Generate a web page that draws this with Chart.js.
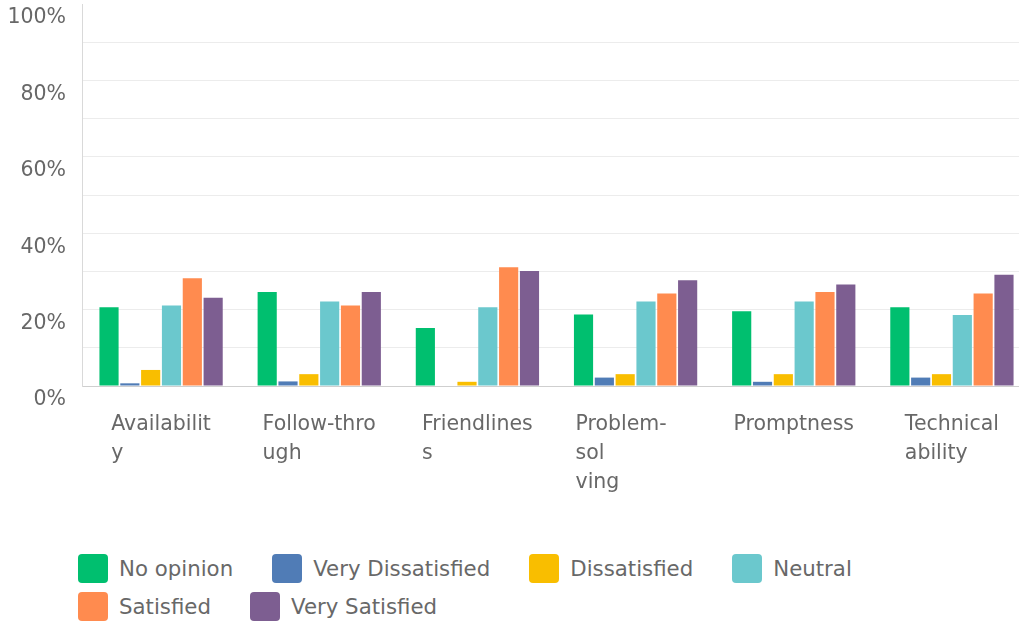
<!DOCTYPE html>
<html>
<head>
<meta charset="utf-8">
<title>Satisfaction by attribute</title>
<script src="https://cdn.jsdelivr.net/npm/chart.js@4.4.1/dist/chart.umd.min.js"></script>
<style>
  html, body { margin: 0; padding: 0; background: #fff; overflow: hidden; }
  #wrap { position: relative; width: 1019px; height: 622px; overflow: hidden; }
  #chart { position: absolute; left: 0; top: 0; }
  #legend {
    position: absolute; left: 78px; top: 554px; width: 800px;
    display: flex; flex-wrap: wrap; column-gap: 39px; row-gap: 9px;
    font-family: "DejaVu Sans", sans-serif; font-size: 21.3px; color: #686868;
  }
  #legend .item { display: flex; align-items: center; height: 29px; line-height: 29px; white-space: nowrap; }
  #legend .box { width: 30px; height: 29px; border-radius: 4px; margin-right: 11px; }
</style>
</head>
<body>
<div id="wrap">
  <canvas id="chart" width="1031" height="548"></canvas>
  <div id="legend"></div>
</div>
<script>
// Attributes rated in the survey
const categories = ['Availability', 'Follow-through', 'Friendliness', 'Problem-solving', 'Promptness', 'Technical ability'];
// Axis labels as they wrap under each group
const tickLabels = [['Availabilit', 'y'], ['Follow-thro', 'ugh'], ['Friendlines', 's'], ['Problem-', 'sol', 'ving'], ['Promptness'], ['Technical', 'ability']];
const yTicks = [0, 20, 40, 60, 80, 100];

// Share of respondents (%) per answer, one value per attribute
const noOpinion          = [20.6, 24.6, 15.2, 18.7, 19.6, 20.6];
const veryDissatisfied   = [0.7, 1.2, 0, 2.2, 1.1, 2.2];
const dissatisfied       = [4.2, 3.1, 1.1, 3.1, 3.1, 3.1];
const neutral            = [21.1, 22.1, 20.6, 22.1, 22.1, 18.6];
const satisfied          = [28.2, 21.1, 31.1, 24.2, 24.6, 24.2];
const verySatisfied      = [23.1, 24.6, 30.1, 27.7, 26.6, 29.1];

const series = [
  { label: 'No opinion',        data: noOpinion,        color: '#00BF6F' },
  { label: 'Very Dissatisfied', data: veryDissatisfied, color: '#507CB6' },
  { label: 'Dissatisfied',      data: dissatisfied,     color: '#F9BE00' },
  { label: 'Neutral',           data: neutral,          color: '#6BC8CD' },
  { label: 'Satisfied',         data: satisfied,        color: '#FF8B4F' },
  { label: 'Very Satisfied',    data: verySatisfied,    color: '#7D5E91' }
];

const AXIS_FONT = { family: '"DejaVu Sans", sans-serif', size: 20.5, lineHeight: 1.42 };

// Draw wrapped category labels as a centred block with left-aligned lines.
// The block is as wide as its widest line; a label broken over three lines
// keeps the width of its first two pieces, as the wrap box did.
const blockLabels = {
  id: 'blockLabels',
  beforeDraw(chart) {
    const items = chart.scales.x.getLabelItems();
    const ctx = chart.ctx;
    items.forEach(item => {
      if (item._block) return;
      const lines = Array.isArray(item.label) ? item.label : [item.label];
      ctx.save();
      ctx.font = item.font.string;
      const widths = lines.map(l => ctx.measureText(l).width);
      if (lines.length > 2) widths.push(ctx.measureText(lines[0] + lines[1]).width);
      ctx.restore();
      const w = Math.max(...widths);
      item.options.textAlign = 'left';
      item.options.translation[0] -= w / 2;
      item._block = true;
    });
  }
};

// Legend rendered as HTML below the canvas
const htmlLegend = {
  id: 'htmlLegend',
  afterUpdate(chart) {
    const box = document.getElementById('legend');
    box.innerHTML = '';
    chart.options.plugins.legend.labels.generateLabels(chart).forEach(it => {
      const item = document.createElement('div');
      item.className = 'item';
      const sw = document.createElement('span');
      sw.className = 'box';
      sw.style.background = it.fillStyle;
      const tx = document.createElement('span');
      tx.textContent = it.text;
      item.appendChild(sw);
      item.appendChild(tx);
      box.appendChild(item);
    });
  }
};

new Chart(document.getElementById('chart'), {
  type: 'bar',
  data: {
    labels: tickLabels,
    datasets: series.map(s => ({
      label: s.label,
      data: s.data,
      backgroundColor: s.color,
      borderWidth: 0,
      categoryPercentage: 0.79,
      barPercentage: 0.92
    }))
  },
  options: {
    responsive: false,
    animation: false,
    layout: { padding: { top: 4, left: 0, right: 0, bottom: 0 } },
    plugins: {
      legend: { display: false },
      tooltip: { enabled: true }
    },
    scales: {
      x: {
        grid: { display: false, drawTicks: false },
        border: { display: true, color: '#cfcfcf', width: 1 },
        ticks: { color: '#686868', font: AXIS_FONT, padding: 24, maxRotation: 0, autoSkip: false },
        afterFit(scale) { scale.height = 162; scale.paddingLeft = 0; scale.paddingRight = 0; }
      },
      y: {
        min: 0,
        max: 100,
        grid: {
          color: ctx => (ctx.tick && ctx.tick.value === 100) ? 'rgba(0,0,0,0)' : '#ececec',
          drawTicks: false
        },
        border: { display: true, color: '#d9d9d9', width: 1 },
        ticks: {
          stepSize: 10,
          color: '#686868',
          font: AXIS_FONT,
          padding: 16,
          labelOffset: 14,
          callback: v => yTicks.includes(v) ? v + '%' : ''
        },
        afterFit(scale) { scale.width = 82; scale.paddingTop = 0; scale.paddingBottom = 0; }
      }
    }
  },
  plugins: [blockLabels, htmlLegend]
});
</script>
</body>
</html>
